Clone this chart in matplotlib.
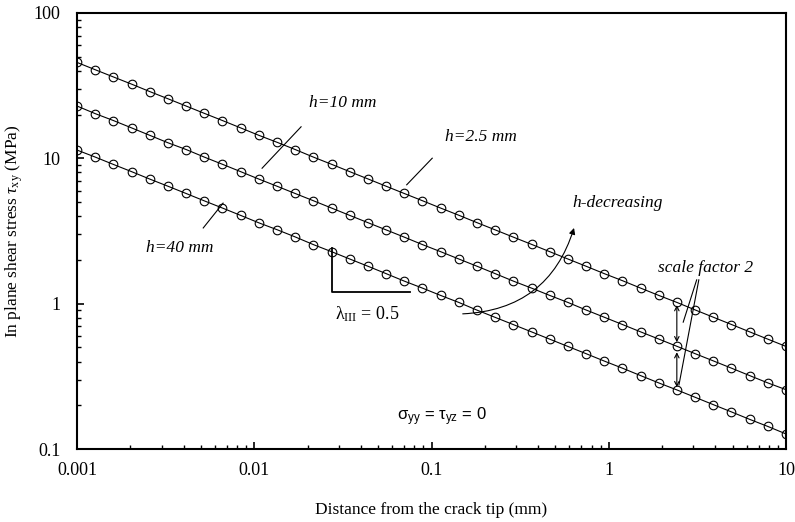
#!/usr/bin/env python3
"""In-plane shear stress vs distance from crack tip, log-log, three plate thicknesses."""
import matplotlib

matplotlib.use("Agg")
import matplotlib.pyplot as plt

plt.rcParams["font.family"] = ["Liberation Serif", "DejaVu Serif"]
plt.rcParams["mathtext.fontset"] = "custom"
plt.rcParams["mathtext.rm"] = "Liberation Serif"
plt.rcParams["mathtext.it"] = "Liberation Serif:italic"
plt.rcParams["mathtext.sf"] = "Liberation Sans"

# distance from crack tip (mm)
x_mm = [0.001, 0.001267, 0.001604, 0.002031, 0.002572, 0.003257, 0.004125, 0.005223,
        0.006614, 0.008376, 0.01061, 0.01343, 0.01701, 0.02154, 0.02728, 0.03455,
        0.04375, 0.05541, 0.07017, 0.08886, 0.1125, 0.1425, 0.1805, 0.2286, 0.2894,
        0.3665, 0.4642, 0.5878, 0.7444, 0.9427, 1.194, 1.512, 1.914, 2.424, 3.070,
        3.888, 4.924, 6.236, 7.897, 10.0]

# tau_xy (MPa)
tau_h2_5 = [45.7, 40.7, 36.3, 32.4, 28.8, 25.7, 22.9, 20.4, 18.2, 16.2, 14.4, 12.9,
            11.5, 10.2, 9.10, 8.10, 7.22, 6.43, 5.73, 5.11, 4.55, 4.06, 3.61, 3.22,
            2.87, 2.56, 2.28, 2.03, 1.81, 1.61, 1.44, 1.28, 1.14, 1.02, 0.906, 0.807,
            0.719, 0.640, 0.570, 0.508]
tau_h10 = [22.9, 20.3, 18.2, 16.2, 14.4, 12.8, 11.5, 10.2, 9.10, 8.10, 7.20, 6.43,
           5.73, 5.11, 4.55, 4.05, 3.61, 3.22, 2.87, 2.55, 2.28, 2.03, 1.81, 1.61,
           1.43, 1.28, 1.14, 1.02, 0.905, 0.807, 0.719, 0.640, 0.571, 0.509, 0.453,
           0.404, 0.360, 0.320, 0.285, 0.256]
tau_h40 = [11.4, 10.2, 9.08, 8.10, 7.20, 6.43, 5.73, 5.10, 4.55, 4.05, 3.60, 3.23,
           2.88, 2.55, 2.28, 2.03, 1.81, 1.61, 1.43, 1.28, 1.14, 1.02, 0.903, 0.805,
           0.718, 0.640, 0.570, 0.508, 0.453, 0.403, 0.360, 0.320, 0.285, 0.255,
           0.227, 0.202, 0.180, 0.160, 0.143, 0.127]

x_ticks = [0.001, 0.01, 0.1, 1, 10]
x_ticklabels = ["0.001", "0.01", "0.1", "1", "10"]
y_ticks = [0.1, 1, 10, 100]
y_ticklabels = ["0.1", "1", "10", "100"]

fig = plt.figure(figsize=(7.95, 5.22), dpi=100)
ax = fig.add_axes([0.0969, 0.1398, 0.8918, 0.8353])

for tau in (tau_h2_5, tau_h10, tau_h40):
  ax.plot(x_mm, tau, color="black", lw=0.8, zorder=2)
  ax.plot(x_mm, tau, ls="none", marker="o", ms=6.2, mfc="none", mec="black", mew=0.8, zorder=3)

ax.set_xscale("log")
ax.set_yscale("log")
ax.set_xlim(0.001, 10)
ax.set_ylim(0.1, 100)
ax.set_xticks(x_ticks)
ax.set_xticklabels(x_ticklabels)
ax.set_yticks(y_ticks)
ax.set_yticklabels(y_ticklabels)
ax.tick_params(which="major", direction="in", length=5, width=1.2, labelsize=13, pad=12)
ax.tick_params(which="minor", direction="in", length=3, width=1.0)
ax.tick_params(axis="x", which="major", pad=9)
for s in ax.spines.values():
  s.set_linewidth(1.5)

ax.set_xlabel("Distance from the crack tip (mm)", fontsize=12.5, labelpad=17)
ax.set_ylabel(r"In plane shear stress $\tau_{\rm xy}$ (MPa)", fontsize=12.5, labelpad=6)

T = ax.transAxes
it = dict(fontsize=12.5, style="italic", ha="center", va="center", transform=T)
ax.text(0.375, 0.794, "h=10 mm", **it)
ax.text(0.570, 0.716, "h=2.5 mm", **it)
ax.text(0.145, 0.461, "h=40 mm", **it)
ax.text(0.762, 0.564, "h-decreasing", **it)
ax.text(0.886, 0.415, "scale factor 2", **it)

lk = dict(color="black", lw=0.8, transform=T)
ax.plot([0.261, 0.316], [0.644, 0.739], **lk)
ax.plot([0.465, 0.501], [0.606, 0.667], **lk)
ax.plot([0.178, 0.206], [0.507, 0.564], **lk)
ax.plot([0.874, 0.855], [0.388, 0.291], **lk)
ax.plot([0.877, 0.849], [0.388, 0.147], **lk)

# slope triangle
ax.plot([0.360, 0.360, 0.470], [0.461, 0.360, 0.360], color="black", lw=1.3, transform=T)
ax.text(0.409, 0.310, r"λ$_{\rm III}$ = 0.5", fontsize=13, ha="center", va="center", transform=T)

ax.text(0.515, 0.073, r"σ$_{\sf yy}$ = τ$_{\sf yz}$ = 0", fontsize=12,
        family=["Liberation Sans", "DejaVu Sans"], ha="center", va="center", transform=T)

# curved h-decreasing arrow
ax.annotate("", xy=(0.701, 0.507), xytext=(0.544, 0.310), xycoords=T, textcoords=T,
            arrowprops=dict(arrowstyle="-|>", color="black", lw=0.8, mutation_scale=9,
                            connectionstyle="arc3,rad=0.35", shrinkA=0, shrinkB=0))

# scale factor double arrows
for y0, y1 in [(0.330, 0.245), (0.222, 0.142)]:
  ax.annotate("", xy=(0.846, y1), xytext=(0.846, y0), xycoords=T, textcoords=T,
              arrowprops=dict(arrowstyle="<->", color="black", lw=0.8, mutation_scale=8,
                              shrinkA=0, shrinkB=0))

fig.savefig("out.png", dpi=100)
